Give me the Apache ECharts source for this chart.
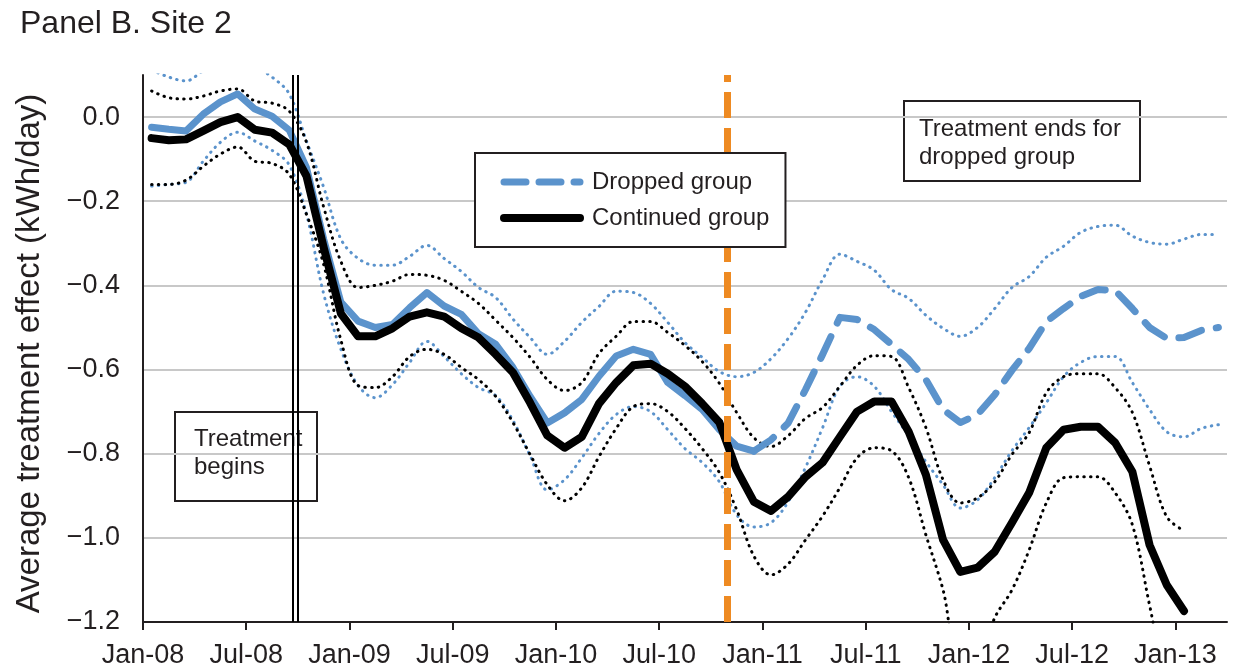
<!DOCTYPE html>
<html>
<head>
<meta charset="utf-8">
<script src="https://cdn.jsdelivr.net/npm/echarts@6/dist/echarts.min.js"></script>
<style>
  html, body { margin: 0; padding: 0; background: #fff; }
  #chart { width: 1236px; height: 669px; }
</style>
</head>
<body>
<div id="chart"></div>
<script>
// Months are counted from January 2008; monthly estimates sit at mid-month.
const tickMonths = [0, 6, 12, 18, 24, 30, 36, 42, 48, 54, 60];
const tickLabels = ['Jan-08', 'Jul-08', 'Jan-09', 'Jul-09', 'Jan-10', 'Jul-10',
                    'Jan-11', 'Jul-11', 'Jan-12', 'Jul-12', 'Jan-13'];

// Dropped group: point estimate and 95% confidence band (Jan 2008 - Mar 2013)
const droppedEffect = [
  -0.024, -0.029, -0.033, 0.007, 0.036, 0.055, 0.019, 0.002, -0.031, -0.12,
  -0.29, -0.44, -0.485, -0.50, -0.493, -0.453, -0.417, -0.449, -0.469, -0.515,
  -0.54, -0.595, -0.664, -0.727, -0.703, -0.671, -0.616, -0.568, -0.552, -0.564,
  -0.631, -0.662, -0.695, -0.743, -0.782, -0.794, -0.767, -0.727, -0.648, -0.564,
  -0.476, -0.481, -0.505, -0.54, -0.576, -0.624, -0.695, -0.726, -0.707, -0.66,
  -0.602, -0.55, -0.486, -0.455, -0.426, -0.41, -0.412, -0.455, -0.50, -0.526,
  -0.524, -0.507, -0.50
];
const droppedUpper = [
  0.112, 0.095, 0.086, 0.11, 0.13, 0.14, 0.12, 0.095, 0.055, -0.057,
  -0.167, -0.29, -0.336, -0.352, -0.352, -0.331, -0.305, -0.336, -0.367, -0.405,
  -0.429, -0.48, -0.524, -0.564, -0.533, -0.488, -0.45, -0.414, -0.417, -0.443,
  -0.488, -0.536, -0.571, -0.605, -0.617, -0.607, -0.574, -0.526, -0.464, -0.386,
  -0.326, -0.343, -0.364, -0.41, -0.431, -0.471, -0.502, -0.521, -0.50, -0.455,
  -0.405, -0.379, -0.333, -0.307, -0.274, -0.26, -0.257, -0.283, -0.298, -0.302,
  -0.29, -0.279, -0.279
];
const droppedLower = [
  -0.164, -0.16, -0.155, -0.105, -0.06, -0.036, -0.057, -0.079, -0.114, -0.231,
  -0.42, -0.552, -0.638, -0.667, -0.636, -0.583, -0.533, -0.569, -0.61, -0.643,
  -0.662, -0.721, -0.805, -0.886, -0.862, -0.81, -0.752, -0.707, -0.688, -0.70,
  -0.743, -0.788, -0.821, -0.867, -0.945, -0.974, -0.964, -0.914, -0.833, -0.738,
  -0.64, -0.617, -0.64, -0.70, -0.757, -0.819, -0.874, -0.929, -0.91, -0.857,
  -0.793, -0.738, -0.679, -0.617, -0.583, -0.569, -0.569, -0.631, -0.695, -0.748,
  -0.76, -0.74, -0.731
];

// Continued group: point estimate and 95% confidence band (Jan 2008 - Jan 2013)
const continuedEffect = [
  -0.05, -0.055, -0.053, -0.033, -0.012, 0.0, -0.03, -0.037, -0.065, -0.14,
  -0.31, -0.467, -0.521, -0.521, -0.502, -0.474, -0.464, -0.474, -0.502, -0.524,
  -0.564, -0.607, -0.679, -0.757, -0.786, -0.76, -0.681, -0.631, -0.59, -0.586,
  -0.61, -0.64, -0.681, -0.726, -0.838, -0.914, -0.936, -0.902, -0.855, -0.821,
  -0.76, -0.70, -0.676, -0.676, -0.748, -0.85, -1.005, -1.081, -1.071, -1.033,
  -0.964, -0.893, -0.786, -0.743, -0.736, -0.736, -0.774, -0.843, -1.017, -1.112,
  -1.174
];
const continuedUpper = [
  0.062, 0.046, 0.043, 0.05, 0.062, 0.067, 0.038, 0.033, 0.014, -0.06,
  -0.214, -0.343, -0.405, -0.40, -0.39, -0.374, -0.376, -0.388, -0.414, -0.443,
  -0.483, -0.524, -0.571, -0.624, -0.65, -0.631, -0.562, -0.521, -0.486, -0.486,
  -0.512, -0.543, -0.581, -0.633, -0.702, -0.762, -0.783, -0.757, -0.716, -0.69,
  -0.64, -0.59, -0.567, -0.569, -0.643, -0.738, -0.862, -0.917, -0.905, -0.867,
  -0.802, -0.75, -0.655, -0.617, -0.61, -0.61, -0.643, -0.702, -0.829, -0.95,
  -0.983
];
const continuedLower = [
  -0.16, -0.16, -0.15, -0.117, -0.088, -0.071, -0.105, -0.11, -0.136, -0.231,
  -0.35, -0.53, -0.638, -0.643, -0.617, -0.569, -0.552, -0.564, -0.595, -0.624,
  -0.664, -0.726, -0.802, -0.874, -0.912, -0.881, -0.807, -0.74, -0.688, -0.681,
  -0.70, -0.74, -0.788, -0.845, -0.933, -1.043, -1.088, -1.062, -1.005, -0.948,
  -0.881, -0.81, -0.786, -0.793, -0.857, -0.993, -1.124, -1.30, -1.30, -1.19,
  -1.124, -1.029, -0.917, -0.857, -0.855, -0.855, -0.893, -0.969, -1.16, -1.35,
  -1.45
];

// Event dates (months since Jan 2008)
const treatmentStart = [8.73, 9.02];   // drawn as a double rule
const treatmentEndDropped = 33.94;
const droppedDashFrom = 35;            // first month drawn dashed

const BLUE = '#5b93cc';
const INK = '#231f20';
const ORANGE = '#ee8a22';
const FONT = '"Liberation Sans", Arial, Helvetica, sans-serif';

const DROPPED_DASH = [24, 15];
const LEGEND_DASH = [22, 13];

const toPoints = arr => arr.map((v, i) => [i + 0.5, v]);

const dotted = color => ({
  color: color, width: 3, type: [0.5, 6.2], cap: 'round'
});

const chart = echarts.init(document.getElementById('chart'), null, { renderer: 'canvas' });

chart.setOption({
  animation: false,
  backgroundColor: '#fff',
  textStyle: { fontFamily: FONT, color: INK },
  title: {
    text: 'Panel B. Site 2',
    left: 20, top: 8, padding: 0,
    textStyle: { fontFamily: FONT, fontSize: 32, fontWeight: 'normal', color: INK }
  },
  grid: { left: 143, right: 9, top: 75, bottom: 47, containLabel: false, outerBoundsMode: 'none' },
  xAxis: {
    type: 'value', min: 0, max: 63, interval: 6,
    axisLine: { show: true, onZero: false, lineStyle: { color: INK, width: 2 } },
    axisTick: { show: true, length: 8, lineStyle: { color: INK, width: 2 }, customValues: tickMonths },
    axisLabel: {
      customValues: tickMonths,
      fontSize: 27, color: INK, fontFamily: FONT, margin: 20,
      formatter: v => {
        const k = tickMonths.indexOf(Math.round(v));
        return k >= 0 && Math.abs(v - tickMonths[k]) < 1e-6 ? tickLabels[k] : '';
      }
    },
    splitLine: { show: false }
  },
  yAxis: {
    type: 'value', min: -1.2, max: 0.1, interval: 0.2,
    name: 'Average treatment effect (kWh/day)',
    nameLocation: 'middle', nameRotate: 90, nameGap: 97,
    nameTextStyle: { fontSize: 33, color: INK, fontFamily: FONT, padding: [0, 10, 0, 0] },
    axisLine: { show: true, lineStyle: { color: INK, width: 2 } },
    axisTick: { show: false },
    axisLabel: {
      fontSize: 27, color: INK, fontFamily: FONT, margin: 23, showMaxLabel: false,
      formatter: v => (Math.abs(v) < 1e-9 ? '0.0' : v.toFixed(1).replace('-', '\u2212'))
    },
    splitLine: { show: true, showMaxLine: false, showMinLine: false, lineStyle: { color: '#c8c8c8', width: 2 } }
  },
  legend: {
    data: [
      { name: 'Dropped group', itemStyle: { opacity: 0 },
        lineStyle: { color: BLUE, width: 7, type: LEGEND_DASH, cap: 'round' } },
      { name: 'Continued group', itemStyle: { opacity: 0 },
        lineStyle: { color: '#000', width: 8, type: 'solid', cap: 'round' } }
    ],
    orient: 'vertical', left: 475, top: 153, z: 10,
    backgroundColor: '#fff', borderColor: INK, borderWidth: 2, borderRadius: 0,
    padding: [16, 16, 16, 25], itemGap: 10, itemWidth: 76, itemHeight: 10,
    selectedMode: false,
    textStyle: { fontSize: 24, color: INK, fontFamily: FONT, lineHeight: 26, padding: [0, 0, 0, 7] }
  },
  series: [
    {
      name: 'Dropped group 95% CI upper', type: 'line', z: 2, symbol: 'none', smooth: 0.35,
      data: toPoints(droppedUpper), lineStyle: dotted(BLUE), silent: true
    },
    {
      name: 'Dropped group 95% CI lower', type: 'line', z: 2, symbol: 'none', smooth: 0.35,
      data: toPoints(droppedLower), lineStyle: dotted(BLUE), silent: true
    },
    {
      name: 'Continued group 95% CI upper', type: 'line', z: 2, symbol: 'none', smooth: 0.35,
      data: toPoints(continuedUpper), lineStyle: dotted('#000'), silent: true
    },
    {
      name: 'Continued group 95% CI lower', type: 'line', z: 2, symbol: 'none', smooth: 0.35,
      data: toPoints(continuedLower), lineStyle: dotted('#000'), silent: true
    },
    {
      // after treatment stops for the dropped group
      name: 'Dropped group', type: 'line', z: 3, symbol: 'none', color: BLUE,
      data: toPoints(droppedEffect).slice(droppedDashFrom),
      lineStyle: { color: BLUE, width: 7, type: DROPPED_DASH, cap: 'round', join: 'round' },
      markLine: {
        silent: true, symbol: ['none', 'none'], label: { show: false }, z: 5,
        lineStyle: { color: ORANGE, width: 7, type: [26, 10], cap: 'butt' },
        data: [{ xAxis: treatmentEndDropped }]
      }
    },
    {
      // while the dropped group is still treated
      name: 'Dropped group', type: 'line', z: 3, symbol: 'none', color: BLUE,
      data: toPoints(droppedEffect).slice(0, droppedDashFrom + 1),
      lineStyle: { color: BLUE, width: 7, cap: 'round', join: 'round' }
    },
    {
      name: 'Continued group', type: 'line', z: 4, symbol: 'none', color: '#000',
      data: toPoints(continuedEffect),
      lineStyle: { color: '#000', width: 8, cap: 'round', join: 'round' },
      markLine: {
        silent: true, symbol: ['none', 'none'], label: { show: false }, z: 5,
        lineStyle: { color: '#000', width: 2, type: 'solid' },
        data: treatmentStart.map(m => ({ xAxis: m }))
      }
    }
  ],
  graphic: [
    {
      type: 'group', left: 174, top: 411, z: 100,
      children: [
        { type: 'rect', shape: { x: 0, y: 0, width: 142, height: 89 },
          style: { fill: '#fff', stroke: INK, lineWidth: 2 } },
        { type: 'text', x: 19, y: 13,
          style: { text: 'Treatment\nbegins', font: '24px ' + FONT, fill: INK, lineHeight: 28 } }
      ]
    },
    {
      type: 'group', left: 903, top: 100, z: 100,
      children: [
        { type: 'rect', shape: { x: 0, y: 0, width: 236, height: 80 },
          style: { fill: '#fff', stroke: INK, lineWidth: 2 } },
        { type: 'text', x: 15, y: 14,
          style: { text: 'Treatment ends for\ndropped group', font: '24px ' + FONT, fill: INK, lineHeight: 28 } }
      ]
    }
  ]
});
</script>
</body>
</html>
